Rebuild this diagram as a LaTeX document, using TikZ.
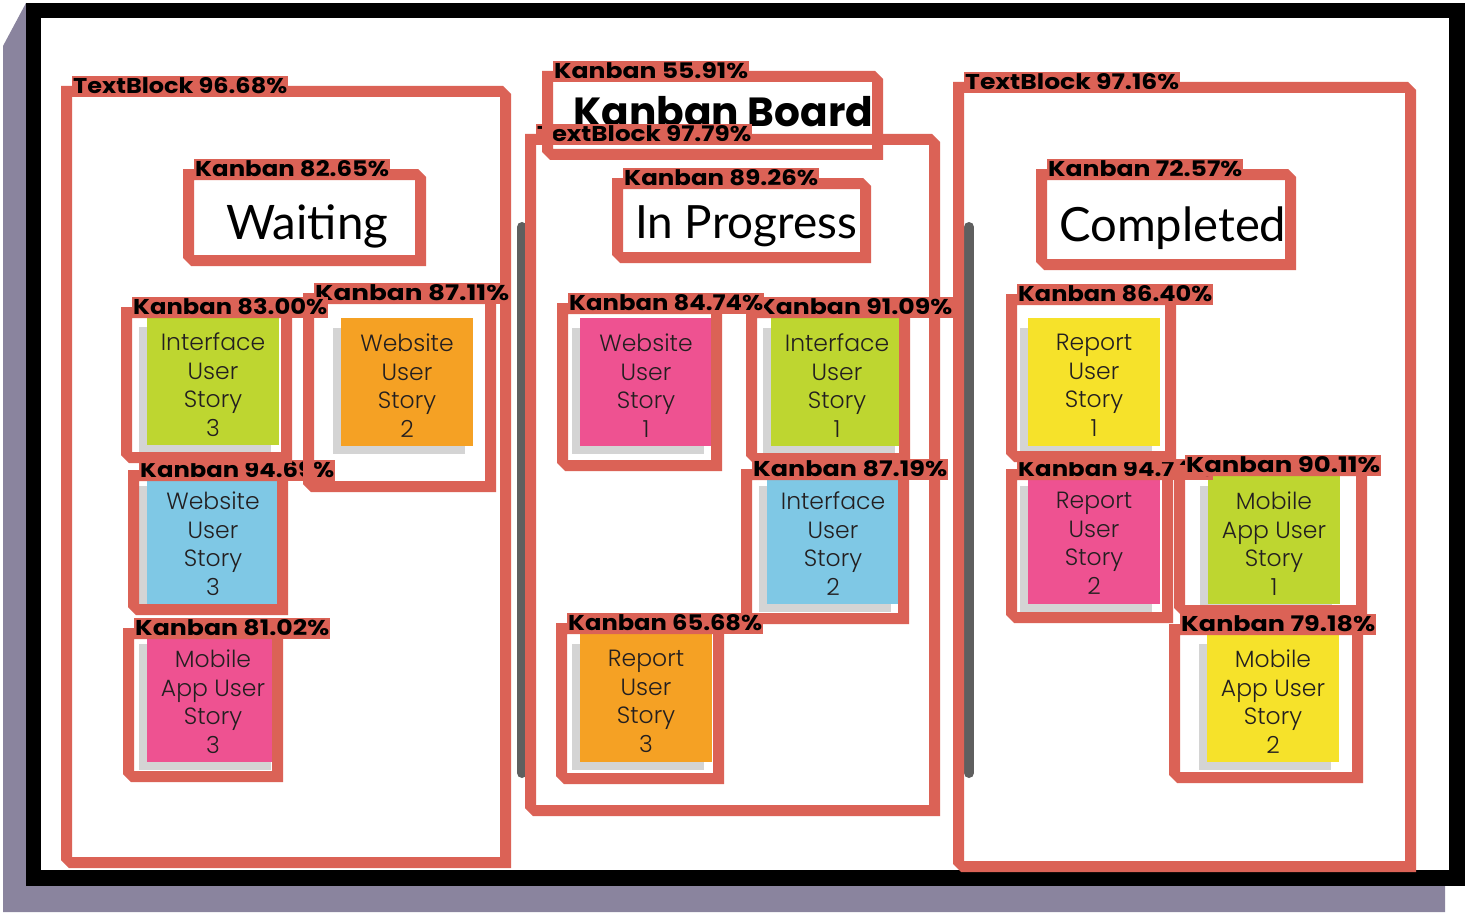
\documentclass[tikz,border=0pt]{standalone}
\usepackage{fontspec}
\setmainfont{Lato}
\newfontfamily\lblfont{Poppins}
\newfontfamily\notefont{Poppins Light}
\newfontfamily\handfont{Lato}
\definecolor{redc}{RGB}{219,98,86}
\definecolor{purplec}{RGB}{138,132,158}
\definecolor{divc}{RGB}{95,95,95}
\definecolor{shadowc}{RGB}{212,212,212}
\definecolor{notec}{RGB}{35,31,32}
\definecolor{pinkc}{RGB}{238,82,145}
\definecolor{greenc}{RGB}{190,214,48}
\definecolor{orangec}{RGB}{245,161,36}
\definecolor{bluec}{RGB}{127,200,229}
\definecolor{yellowc}{RGB}{246,226,42}
\tikzset{
  lbl/.style={fill=redc, inner xsep=1pt, inner ysep=0pt, text height=17pt, text depth=3.5pt, anchor=south west, text=black},
  notebody/.style={minimum width=132pt, minimum height=128pt, inner sep=0pt, outer sep=0pt, anchor=north west},
  notetext/.style={align=center, font=\notefont\fontsize{23.5}{28.5}\selectfont, text=notec, inner sep=0pt},
  headtext/.style={anchor=base west, inner sep=0pt, text=black},
  divider/.style={divc, line width=10pt, line cap=round}
}
% #1 name, #2 x0, #3 y0, #4 x1, #5 y1, #6 label, #7 label width
\newcommand{\rbox}[7]{%
  \fill[redc, even odd rule] (#2,#3) -- ({#4-8},#3) -- (#4,{#3+8}) -- (#4,#5) -- ({#2+8},#5) -- (#2,{#5-8}) -- cycle
     ({#2+11},{#3+11}) rectangle ({#4-11},{#5-11});
  \node[lbl] (#1) at ({#2+11},{#3+11}) {\resizebox{#7pt}{16pt}{\lblfont\bfseries #6}};
}
% #1 name, #2 left, #3 top, #4 colour, #5 text
\newcommand{\stick}[5]{%
  \fill[shadowc] ({#2-8},{#3+10}) rectangle ({#2+124},{#3+136});
  \node[notebody, fill=#4] (#1) at (#2,#3) {};
  \node[notetext] (#1t) at ([yshift=-3.5pt]#1.center) {#5};
}
\begin{document}
\begin{tikzpicture}[x=1pt,y=-1pt]
\useasboundingbox (0,0) rectangle (1467,915);
% board
\fill[purplec] (26,3) -- (3,46) -- (3,912) -- (1445,912) -- (1445,880) -- (26,880) -- cycle;
\fill[black] (26,3) rectangle (1465,886);
\fill[white] (41,18) rectangle (1449,870);
% dividers
\draw[divider] (522,227) -- (522,773);
\draw[divider] (969,227) -- (969,773);
% headers
\node[headtext] (title) at (573,126) {\resizebox{300pt}{!}{\lblfont\bfseries Kanban Board}};
\node[headtext] (hwait) at (226,239) {\resizebox{162pt}{!}{\handfont Waiting}};
\node[headtext] (hprog) at (635,238) {\resizebox{222pt}{!}{\handfont In Progress}};
\node[headtext] (hcomp) at (1059,241) {\resizebox{227pt}{!}{\handfont Completed}};
% sticky notes
\stick{n1}{147}{317}{greenc}{Interface\\User\\Story\\3}
\stick{n2}{341}{318}{orangec}{Website\\User\\Story\\2}
\stick{n3}{147}{476}{bluec}{Website\\User\\Story\\3}
\stick{n4}{147}{634}{pinkc}{Mobile\\App User\\Story\\3}
\stick{n5}{580}{318}{pinkc}{Website\\User\\Story\\1}
\stick{n6}{771}{318}{greenc}{Interface\\User\\Story\\1}
\stick{n7}{767}{476}{bluec}{Interface\\User\\Story\\2}
\stick{n8}{580}{634}{orangec}{Report\\User\\Story\\3}
\stick{n9}{1028}{318}{yellowc}{Report\\User\\Story\\1}
\stick{n10}{1028}{476}{pinkc}{Report\\User\\Story\\2}
\stick{n11}{1208}{476}{greenc}{Mobile\\App User\\Story\\1}
\stick{n12}{1207}{634}{yellowc}{Mobile\\App User\\Story\\2}
% detection boxes
\rbox{bA}{61}{86}{511}{868}{TextBlock 96.68\%}{214}
\rbox{bD}{525}{134}{940}{816}{TextBlock 97.79\%}{214}
\rbox{bF}{953}{82}{1416}{872}{TextBlock 97.16\%}{214}
\rbox{bB}{183}{169}{426}{266}{Kanban 82.65\%}{194}
\rbox{bC}{542}{71}{883}{160}{Kanban 55.91\%}{194}
\rbox{bE}{612}{178}{871}{263}{Kanban 89.26\%}{194}
\rbox{bG}{1036}{169}{1296}{270}{Kanban 72.57\%}{194}
\rbox{bJ}{128}{470}{288}{615}{Kanban 94.69\%}{194}
\rbox{bI}{303}{293}{496}{492}{Kanban 87.11\%}{194}
\rbox{bH}{121}{307}{292}{463}{Kanban 83.00\%}{194}
\rbox{bK}{123}{628}{283}{782}{Kanban 81.02\%}{194}
\rbox{bM}{746}{307}{910}{464}{Kanban 91.09\%}{194}
\rbox{bL}{557}{303}{722}{471}{Kanban 84.74\%}{194}
\rbox{bN}{741}{469}{909}{624}{Kanban 87.19\%}{194}
\rbox{bO}{556}{623}{724}{784}{Kanban 65.68\%}{194}
\rbox{bQ}{1006}{469}{1173}{623}{Kanban 94.74\%}{194}
\rbox{bP}{1006}{294}{1176}{462}{Kanban 86.40\%}{194}
\rbox{bR}{1174}{465}{1367}{616}{Kanban 90.11\%}{194}
\rbox{bS}{1169}{624}{1363}{783}{Kanban 79.18\%}{194}
\end{tikzpicture}
\end{document}
